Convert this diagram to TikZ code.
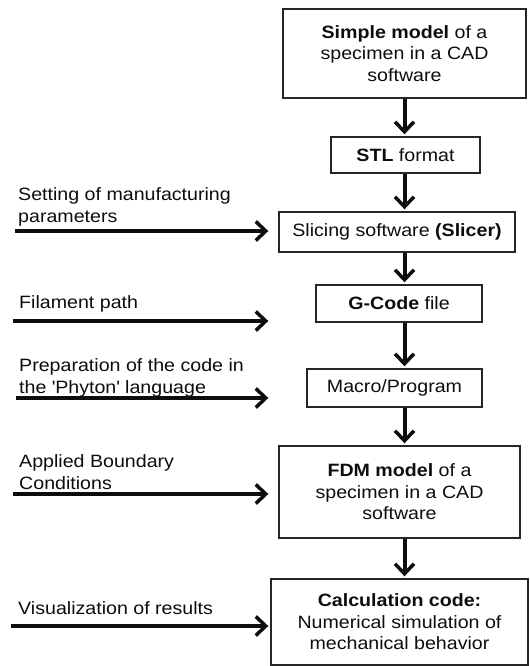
\documentclass[tikz,border=0pt]{standalone}
\usepackage{fontspec}
\setmainfont{Liberation Sans}[FakeStretch=1.1]
\usetikzlibrary{arrows.meta}
\begin{document}
\begin{tikzpicture}[x=1bp,y=-1bp,
 stepbox/.style={draw=black!85,line width=1.4bp,align=center,inner sep=0pt,text=black!95,font=\fontsize{17.9}{21.5}\selectfont},
 note/.style={anchor=base west,align=left,inner sep=0pt,text=black!95,font=\fontsize{17.9}{21.5}\selectfont},
 flow/.style={draw=black!95,line width=4bp,-{Straight Barb[length=10bp,width=19bp,line width=3.5bp]},shorten >=2bp}]
 \useasboundingbox (0,0) rectangle (530,666);
 % steps of the chain
 \node[stepbox,minimum width=243bp,minimum height=89bp] (cad) at (404.5,53.5) {\textbf{Simple model} of a\\specimen in a CAD\\software};
 \node[stepbox,minimum width=149bp,minimum height=36bp] (stl) at (405.5,155) {\textbf{STL} format};
 \node[stepbox,minimum width=236bp,minimum height=40bp] (slicer) at (397,232) {Slicing software \textbf{(Slicer)}};
 \node[stepbox,minimum width=166bp,minimum height=37bp] (gcode) at (399,303.5) {\textbf{G-Code} file};
 \node[stepbox,minimum width=175bp,minimum height=38bp] (macro) at (394.5,388) {Macro/Program};
 \node[stepbox,minimum width=241bp,minimum height=92bp] (fdm) at (399.5,492) {\textbf{FDM model} of a\\specimen in a CAD\\software};
 \node[stepbox,minimum width=257bp,minimum height=86bp] (calc) at (399.5,622) {\textbf{Calculation code:}\\Numerical simulation of\\mechanical behavior};
 % vertical arrows
 \draw[flow] (cad.south) -- (cad.south |- stl.north);
 \draw[flow] (cad.south |- stl.south) -- (cad.south |- slicer.north);
 \draw[flow] (cad.south |- slicer.south) -- (cad.south |- gcode.north);
 \draw[flow] (cad.south |- gcode.south) -- (cad.south |- macro.north);
 \draw[flow] (cad.south |- macro.south) -- (cad.south |- fdm.north);
 \draw[flow] (cad.south |- fdm.south) -- (cad.south |- calc.north);
 % inputs from the left
 \node[note] (set) at (18,222) {Setting of manufacturing\\parameters};
 \node[note] (fil) at (19,308) {Filament path};
 \node[note] (prep) at (19,393) {Preparation of the code in\\the \textquotesingle Phyton\textquotesingle{} language};
 \node[note] (bc) at (19,489) {Applied Boundary\\Conditions};
 \node[note] (vis) at (18,614) {Visualization of results};
 \coordinate (in1) at (15,231);
 \coordinate (in2) at (13,321);
 \coordinate (in3) at (16,398);
 \coordinate (in4) at (13,494);
 \coordinate (in5) at (11,626);
 \draw[flow] (in1) -- (in1 -| calc.west);
 \draw[flow] (in2) -- (in2 -| calc.west);
 \draw[flow] (in3) -- (in3 -| calc.west);
 \draw[flow] (in4) -- (in4 -| calc.west);
 \draw[flow] (in5) -- (in5 -| calc.west);
\end{tikzpicture}
\end{document}
